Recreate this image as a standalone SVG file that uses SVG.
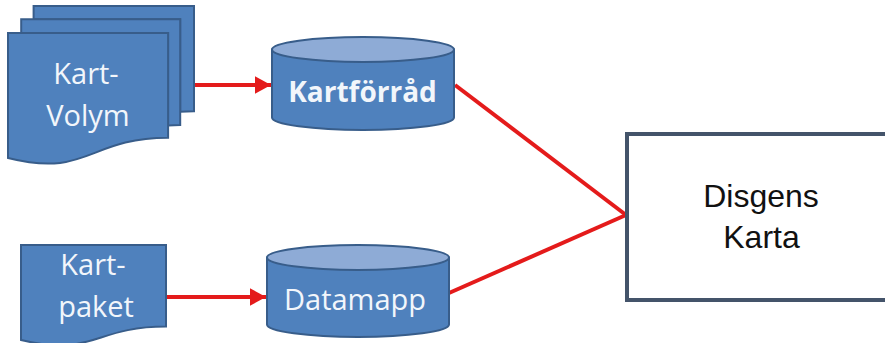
<svg xmlns="http://www.w3.org/2000/svg" width="885" height="343" viewBox="0 0 885 343">
<defs>
<style>
.shape{fill:#4f81bd;stroke:#385d8a;stroke-width:2}
.top{fill:#8eabd6;stroke:#385d8a;stroke-width:2}
.lbl{font-family:"Open Sans","Noto Sans",sans-serif;font-size:29px;fill:#f2f6fb;text-anchor:middle}
.bold{font-weight:bold}
.conn{stroke:#e41b1b;stroke-width:4;fill:none}
.dark{font-family:"Liberation Sans",Arial,sans-serif;font-size:32px;fill:#111;text-anchor:middle}
</style>
<marker id="ah" markerWidth="5" markerHeight="5" refX="4" refY="2.2" orient="auto" markerUnits="strokeWidth">
<path d="M0,0 L4,2.2 L0,4.4 Z" fill="#e41b1b"/>
</marker>
</defs>
<rect width="885" height="343" fill="#ffffff"/>
<g id="connectors">
<line class="conn" x1="194" y1="85" x2="271" y2="85" marker-end="url(#ah)"/>
<line class="conn" x1="166" y1="297" x2="266" y2="297" marker-end="url(#ah)"/>
<line class="conn" x1="455" y1="85" x2="626" y2="215"/>
<line class="conn" x1="449" y1="293" x2="626" y2="215"/>
</g>
<g id="kartvolym">
<path class="shape" d="M33.6,19.3 V6 H194 V111.3 C187.1,111.3 180.2,111.8 180.2,111.8 V19.3 Z"/>
<path class="shape" d="M21.2,32.9 V19.3 H180.2 V124.9 C174.2,124.9 168.1,125.6 168.1,125.6 V32.9 Z"/>
<path class="shape" d="M8,158 C88.1,178.2 88.1,137.8 168.1,137.8 V32.9 H8 Z"/>
<text class="lbl" x="86" y="84">Kart-</text>
<text class="lbl" x="88" y="126">Volym</text>
</g>
<g id="kartpaket">
<path class="shape" d="M21,245 H166 V326.6 C93.5,326.6 93.5,357.6 21,340 Z"/>
<text class="lbl" x="93" y="275">Kart-</text>
<text class="lbl" x="96" y="317">paket</text>
</g>
<g id="kartforrad">
<path class="shape" d="M272,49.5 V117.5 A91,12.5 0 0 0 454,117.5 V49.5 Z"/>
<ellipse class="top" cx="363" cy="49.5" rx="91" ry="12.5"/>
<text class="lbl bold" x="362.5" y="102" style="font-size:28px">Kartförråd</text>
</g>
<g id="datamapp">
<path class="shape" d="M267,257.5 V324.5 A91,12.5 0 0 0 449,324.5 V257.5 Z"/>
<ellipse class="top" cx="358" cy="257.5" rx="91" ry="12.5"/>
<text class="lbl" x="355" y="310">Datamapp</text>
</g>
<g id="disgenskarta">
<rect x="627" y="134" width="270" height="166" fill="#ffffff" stroke="#44546a" stroke-width="4"/>
<text class="dark" x="761" y="207">Disgens</text>
<text class="dark" x="761.5" y="248">Karta</text>
</g>
</svg>
